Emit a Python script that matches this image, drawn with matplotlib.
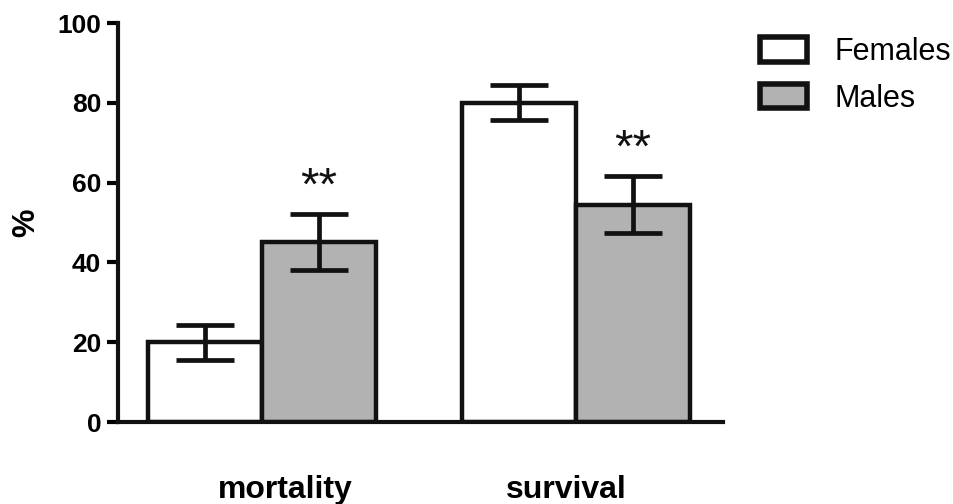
import matplotlib
matplotlib.use("Agg")
import matplotlib.pyplot as plt
from matplotlib.patches import Patch

plt.rcParams['font.family'] = ['Liberation Sans', 'DejaVu Sans']

# data
categories = ['mortality', 'survival']
females = [20.0, 80.0]
females_err = [4.4, 4.4]
males = [45.2, 54.5]
males_err = [7.0, 7.2]
stars = ['**', '**']

group_x = [0.0, 2.75]
label_shift = [0.2, -0.08]   # category labels sit a bit off the group centres
width = 1.0

fig = plt.figure(figsize=(9.54, 5.04), dpi=100)
ax = fig.add_axes([118/954, (504-422)/504, (723-118)/954, (422-23)/504])

lw = 3.2
fx = [g - width/2 for g in group_x]
mx = [g + width/2 for g in group_x]
ax.bar(fx, females, width, color='white', edgecolor='#111111', linewidth=lw, zorder=2)
ax.bar(mx, males, width, color='#b2b2b2', edgecolor='#111111', linewidth=lw, zorder=2)

for xs, ys, es in [(fx, females, females_err), (mx, males, males_err)]:
    ax.errorbar(xs, ys, yerr=es, fmt='none', ecolor='#111111', elinewidth=3.4,
                capsize=21, capthick=3.4, zorder=3)

for x, y, e, s in zip(mx, males, males_err, stars):
    ax.text(x, y + e + 3.5, s, ha='center', va='baseline', fontsize=34, color='#111111')

ax.set_xlim(-1.263, 4.04)
ax.set_ylim(0, 100)
ax.set_yticks([0, 20, 40, 60, 80, 100])
ax.set_xticks([g + d for g, d in zip(group_x, label_shift)])
ax.set_xticklabels(categories, fontsize=23, fontweight='bold')
ax.tick_params(axis='x', length=0, pad=38)
ax.tick_params(axis='y', length=8, width=3, pad=4, labelsize=19)
for t in ax.get_yticklabels():
    t.set_fontweight('bold')
ax.set_ylabel('%', fontsize=23, fontweight='bold', labelpad=12)

for side in ['top', 'right']:
    ax.spines[side].set_visible(False)
ax.spines['left'].set_linewidth(3)
ax.spines['bottom'].set_linewidth(3)
ax.spines['left'].set_color('#111111')
ax.spines['bottom'].set_color('#111111')

handles = [Patch(facecolor='white', edgecolor='#111111', linewidth=4, label='Females'),
           Patch(facecolor='#b2b2b2', edgecolor='#111111', linewidth=4, label='Males')]
fig.legend(handles=handles, loc='upper left', bbox_to_anchor=(760/954, 1 - 37/504),
           frameon=False, fontsize=22, handlelength=1.55, handleheight=0.85,
           handletextpad=0.9, labelspacing=0.55, borderpad=0, borderaxespad=0)

fig.savefig('out.png', dpi=100)
